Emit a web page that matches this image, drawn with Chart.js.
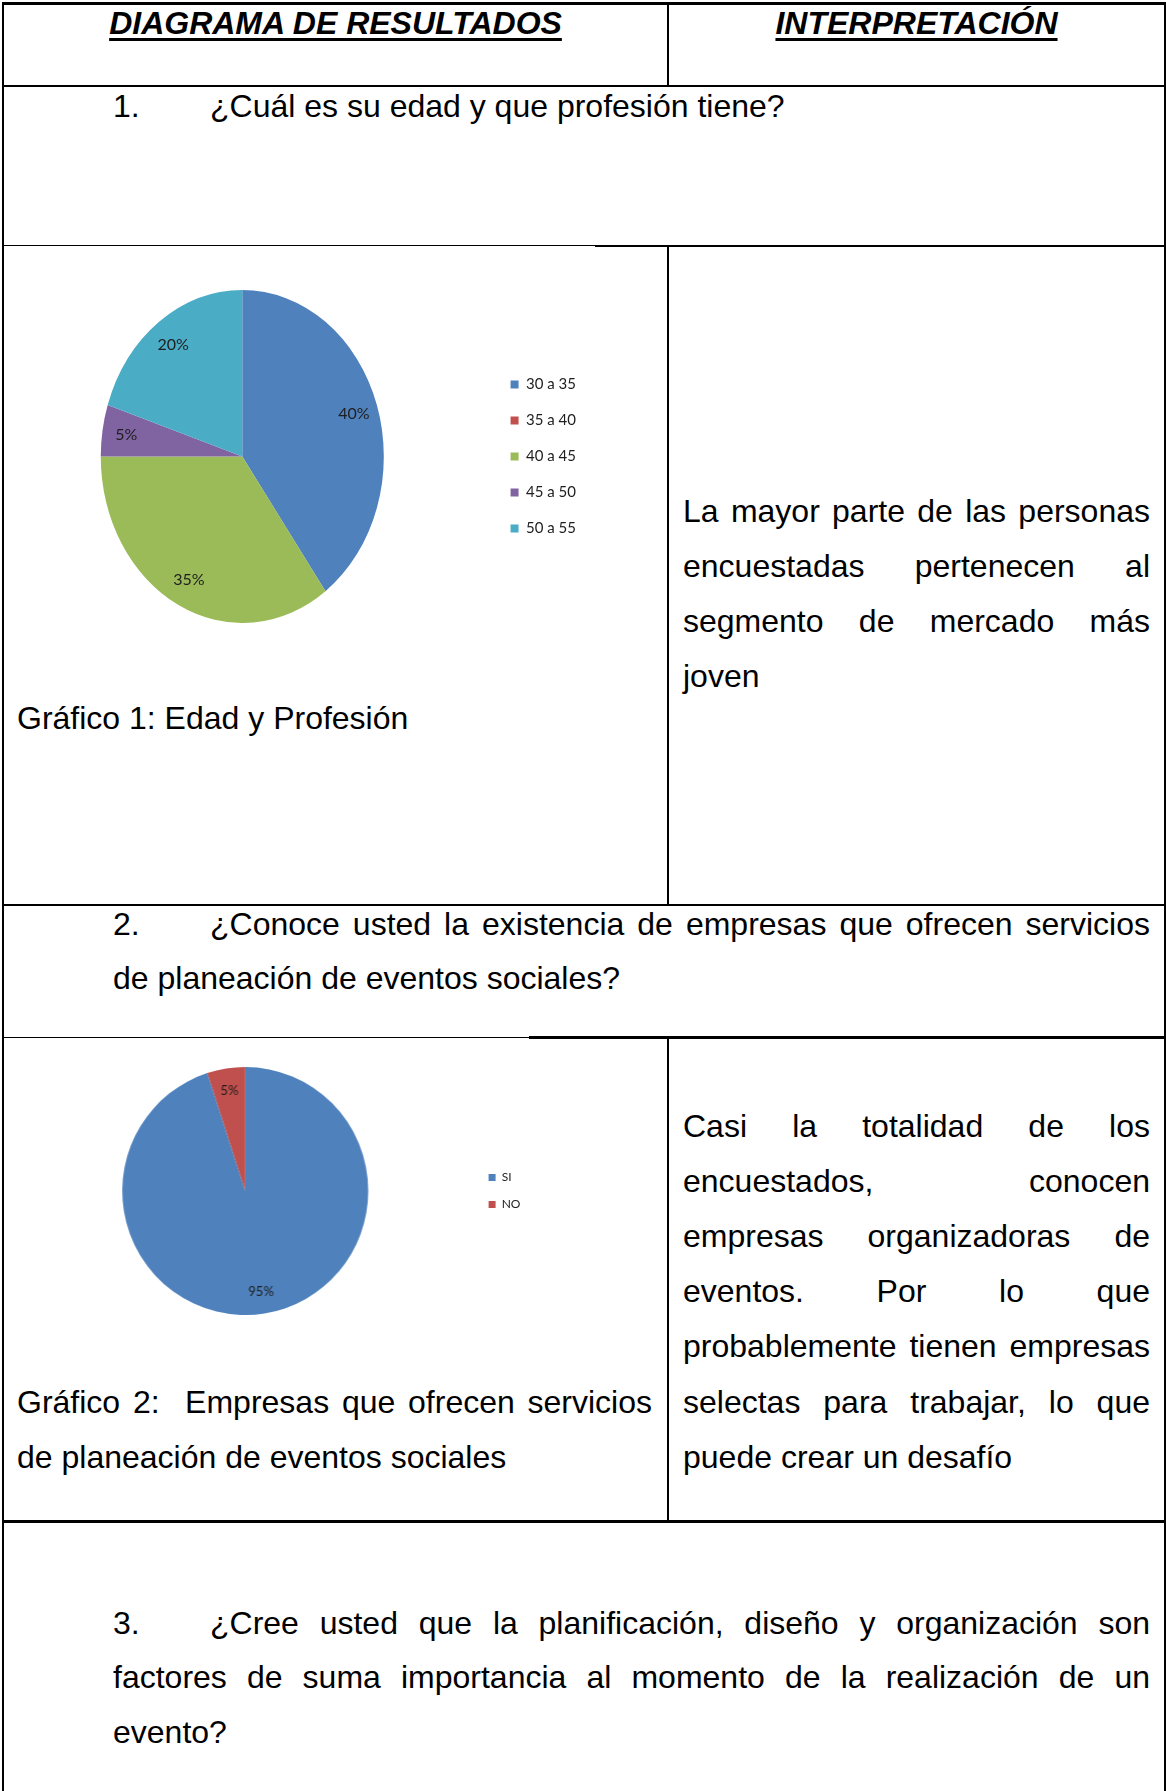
<!DOCTYPE html>
<html lang="es">
<head>
<meta charset="utf-8">
<title>Diagrama de resultados</title>
<script src="https://cdn.jsdelivr.net/npm/chart.js@4.4.1/dist/chart.umd.min.js"></script>
<style>
  html, body { margin: 0; padding: 0; background: #fff; }
  body { position: relative; width: 1166px; height: 1791px; overflow: hidden;
         font-family: "Liberation Sans", Arial, sans-serif; color: #000; }
  .h { position: absolute; background: #000; }
  .v { position: absolute; background: #000; }
  .t { position: absolute; height: 55px; line-height: 55px; font-size: 32px; white-space: nowrap; }
  .j { text-align: justify; text-align-last: justify; white-space: normal; overflow: hidden; }
  .title { font-weight: bold; font-style: italic; text-decoration: underline;
           text-decoration-thickness: 3px; text-underline-offset: 4px; text-align: center; }
  .box { position: absolute; }
</style>
</head>
<body>
<!-- table borders -->
<div class="h" style="left:2px;top:2px;width:1164px;height:2.5px"></div>
<div class="h" style="left:2px;top:84.5px;width:1164px;height:2.5px"></div>
<div class="h" style="left:2px;top:245px;width:593px;height:1px"></div>
<div class="h" style="left:595px;top:244.5px;width:571px;height:2.5px"></div>
<div class="h" style="left:2px;top:903.5px;width:1164px;height:2.5px"></div>
<div class="h" style="left:2px;top:1036.5px;width:527px;height:1px"></div>
<div class="h" style="left:529px;top:1036px;width:637px;height:2.5px"></div>
<div class="h" style="left:2px;top:1520px;width:1164px;height:2.5px"></div>
<div class="v" style="left:2px;top:2px;width:2px;height:1789px"></div>
<div class="v" style="left:1164px;top:2px;width:2px;height:1789px"></div>
<div class="v" style="left:667px;top:2px;width:1.5px;height:84px"></div>
<div class="v" style="left:667px;top:245px;width:1.5px;height:660px"></div>
<div class="v" style="left:667px;top:1037px;width:1.5px;height:484px"></div>

<!-- header -->
<div class="t title" style="left:3px;top:-4.5px;width:665px">DIAGRAMA DE RESULTADOS</div>
<div class="t title" style="left:668px;top:-4.5px;width:497px">INTERPRETACIÓN</div>

<!-- question 1 -->
<div class="t" style="left:113px;top:78.5px">1.</div>
<div class="t" style="left:210px;top:78.5px">¿Cuál es su edad y que profesión tiene?</div>

<!-- chart 1 -->
<div class="box" style="left:-5px;top:290px;width:591px;height:333px"><canvas id="c1"></canvas></div>
<div class="t" style="left:17px;top:691px">Gráfico 1: Edad y Profesión</div>

<div class="t j" style="left:683px;top:484px;width:467px">La mayor parte de las personas</div>
<div class="t j" style="left:683px;top:539px;width:467px">encuestadas pertenecen al</div>
<div class="t j" style="left:683px;top:594px;width:467px">segmento de mercado más</div>
<div class="t" style="left:683px;top:648.5px">joven</div>

<!-- question 2 -->
<div class="t" style="left:113px;top:896.5px">2.</div>
<div class="t j" style="left:210px;top:896.5px;width:940px">¿Conoce usted la existencia de empresas que ofrecen servicios</div>
<div class="t" style="left:113px;top:951px">de planeación de eventos sociales?</div>

<!-- chart 2 -->
<div class="box" style="left:17.3px;top:1067px;width:512.4px;height:248px"><canvas id="c2"></canvas></div>
<div class="t j" style="left:17px;top:1375px;width:635px">Gráfico 2:&nbsp; Empresas que ofrecen servicios</div>
<div class="t" style="left:17px;top:1430px">de planeación de eventos sociales</div>

<div class="t j" style="left:683px;top:1098.5px;width:467px">Casi la totalidad de los</div>
<div class="t j" style="left:683px;top:1153.5px;width:467px">encuestados, conocen</div>
<div class="t j" style="left:683px;top:1209px;width:467px">empresas organizadoras de</div>
<div class="t j" style="left:683px;top:1264px;width:467px">eventos. Por lo que</div>
<div class="t j" style="left:683px;top:1319px;width:467px">probablemente tienen empresas</div>
<div class="t j" style="left:683px;top:1375px;width:467px">selectas para trabajar, lo que</div>
<div class="t" style="left:683px;top:1430px">puede crear un desafío</div>

<!-- question 3 -->
<div class="t" style="left:113px;top:1595.5px">3.</div>
<div class="t j" style="left:210px;top:1595.5px;width:940px">¿Cree usted que la planificación, diseño y organización son</div>
<div class="t j" style="left:113px;top:1650px;width:1037px">factores de suma importancia al momento de la realización de un</div>
<div class="t" style="left:113px;top:1705px">evento?</div>

<script>
// ---- data ----
const edadLabels = ['30 a 35', '35 a 40', '40 a 45', '45 a 50', '50 a 55'];
const edadValues = [40, 0, 35, 5, 20];
const empresasLabels = ['SI', 'NO'];
const empresasValues = [95, 5];

const officeColors = ['#4F81BD', '#C0504D', '#9BBB59', '#8064A2', '#4BACC6'];

Chart.defaults.font.family = 'Lato, "Open Sans", sans-serif';
Chart.defaults.animation = false;

// squeeze the pie horizontally (the reference pie is an ellipse) and write slice labels
const ellipsePlugin = {
  id: 'ellipse',
  beforeDatasetsDraw(chart, args, opts) {
    const meta = chart.getDatasetMeta(0);
    const a = meta.data[0];
    if (!a) return;
    const ctx = chart.ctx;
    ctx.save();
    ctx.translate(a.x, a.y);
    ctx.scale(opts.sx || 1, opts.sy || 1);
    ctx.translate(-a.x, -a.y);
  },
  afterDatasetsDraw(chart, args, opts) {
    const ctx = chart.ctx;
    const meta = chart.getDatasetMeta(0);
    if (!meta.data[0]) return;
    ctx.restore();
    const values = chart.data.datasets[0].data;
    ctx.save();
    ctx.font = opts.labelSize + 'px ' + Chart.defaults.font.family;
    ctx.fillStyle = opts.labelColor || '#222';
    ctx.textAlign = 'center';
    ctx.textBaseline = 'middle';
    meta.data.forEach((arc, i) => {
      if (!values[i]) return;
      const p = arc.getProps(['x', 'y', 'startAngle', 'endAngle', 'outerRadius'], true);
      const mid = (p.startAngle + p.endAngle) / 2;
      const r = p.outerRadius * (opts.labelPos || 0.83);
      const x = p.x + Math.cos(mid) * r * (opts.sx || 1);
      const y = p.y + Math.sin(mid) * r * (opts.sy || 1);
      ctx.fillText(values[i] + '%', x, y);
    });
    ctx.restore();
  }
};

new Chart(document.getElementById('c1'), {
  type: 'pie',
  data: {
    labels: edadLabels,
    datasets: [{
      data: edadValues,
      backgroundColor: officeColors,
      borderWidth: 0,
      hoverOffset: 0,
      offset: 0
    }]
  },
  options: {
    responsive: true,
    maintainAspectRatio: false,
    layout: { padding: 0 },
    plugins: {
      tooltip: { enabled: false },
      legend: {
        position: 'right',
        align: 'center',
        labels: {
          boxWidth: 8, boxHeight: 8, padding: 21,
          color: '#1e1e1e',
          font: { size: 15 }
        }
      },
      ellipse: { sx: 0.85, sy: 1, labelSize: 16, labelPos: 0.83, labelColor: '#1e1e1e' }
    }
  },
  plugins: [ellipsePlugin]
});

new Chart(document.getElementById('c2'), {
  type: 'pie',
  data: {
    labels: empresasLabels,
    datasets: [{
      data: empresasValues,
      backgroundColor: [officeColors[0], officeColors[1]],
      borderWidth: 0,
      hoverOffset: 0,
      offset: 0
    }]
  },
  options: {
    responsive: true,
    maintainAspectRatio: false,
    layout: { padding: 0 },
    plugins: {
      tooltip: { enabled: false },
      legend: {
        position: 'right',
        align: 'center',
        labels: {
          boxWidth: 7, boxHeight: 7, padding: 15,
          color: '#1e1e1e',
          font: { size: 12 }
        }
      },
      ellipse: { sx: 0.99, sy: 1, labelSize: 13, labelPos: 0.82, labelColor: '#1e1e1e' }
    }
  },
  plugins: [ellipsePlugin]
});
</script>
</body>
</html>
